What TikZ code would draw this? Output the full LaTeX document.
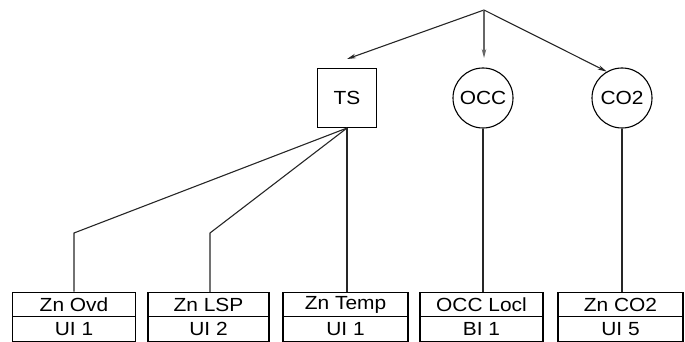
\documentclass[tikz,border=0pt]{standalone}
\usepackage{fontspec}
\setmainfont{Liberation Sans}[FakeStretch=1.1]
\usetikzlibrary{arrows.meta}
\begin{document}
\begin{tikzpicture}[x=1pt,y=-1pt,
  conn/.style={line width=1.1pt,draw=black!85},
  arr/.style={conn,-{Stealth[length=9pt,width=4.5pt]}},
  sens/.style={draw,line width=1.1pt,inner sep=0pt,font=\fontsize{19}{22}\selectfont},
  cell/.style={draw,line width=1.1pt,inner sep=0pt,minimum width=123pt,minimum height=24.5pt,font=\fontsize{19}{22}\selectfont}]
\useasboundingbox (0,0) rectangle (685,342);
\coordinate (apex) at (484,10);
\node[sens,rectangle,minimum size=59pt] (ts) at (347,98) {TS};
\node[sens,circle,minimum size=60pt] (occ) at (483,98) {OCC};
\node[sens,circle,minimum size=60pt] (co2) at (622,98) {CO2};
\draw[arr] (apex) -- (347,59);
\draw[arr,draw=black!60] (apex) -- (484,58);
\draw[arr] (apex) -- (co2.120);
% bottom boxes
\node[cell] (ovd) at (74,304.5) {Zn Ovd};
\node[cell] (ovdb) at (74,329) {UI 1};
\node[cell,minimum width=121pt] (lsp) at (208.5,304.5) {Zn LSP};
\node[cell,minimum width=121pt] (lspb) at (208.5,329) {UI 2};
\node[cell,minimum width=125pt] (tmp) at (345.5,304.5) {Zn Temp};
\node[cell,minimum width=125pt] (tmpb) at (345.5,329) {UI 1};
\node[cell] (occl) at (481.5,304.5) {OCC Locl};
\node[cell] (occlb) at (481.5,329) {BI 1};
\node[cell,minimum width=125pt] (zco2) at (620.5,304.5) {Zn CO2};
\node[cell,minimum width=125pt] (zco2b) at (620.5,329) {UI 5};
\coordinate (b1) at (74,233);
\coordinate (b2) at (210,233);
\draw[conn] (ts.south) -- (b1) -- (ovd.north);
\draw[conn] (ts.south) -- (b2) -- (210,292);
\draw[conn] (ts.south) -- (ts.south |- tmp.north);
\draw[conn] (occ.south) -- (occ.south |- occl.north);
\draw[conn] (co2.south) -- (co2.south |- zco2.north);
\end{tikzpicture}
\end{document}
